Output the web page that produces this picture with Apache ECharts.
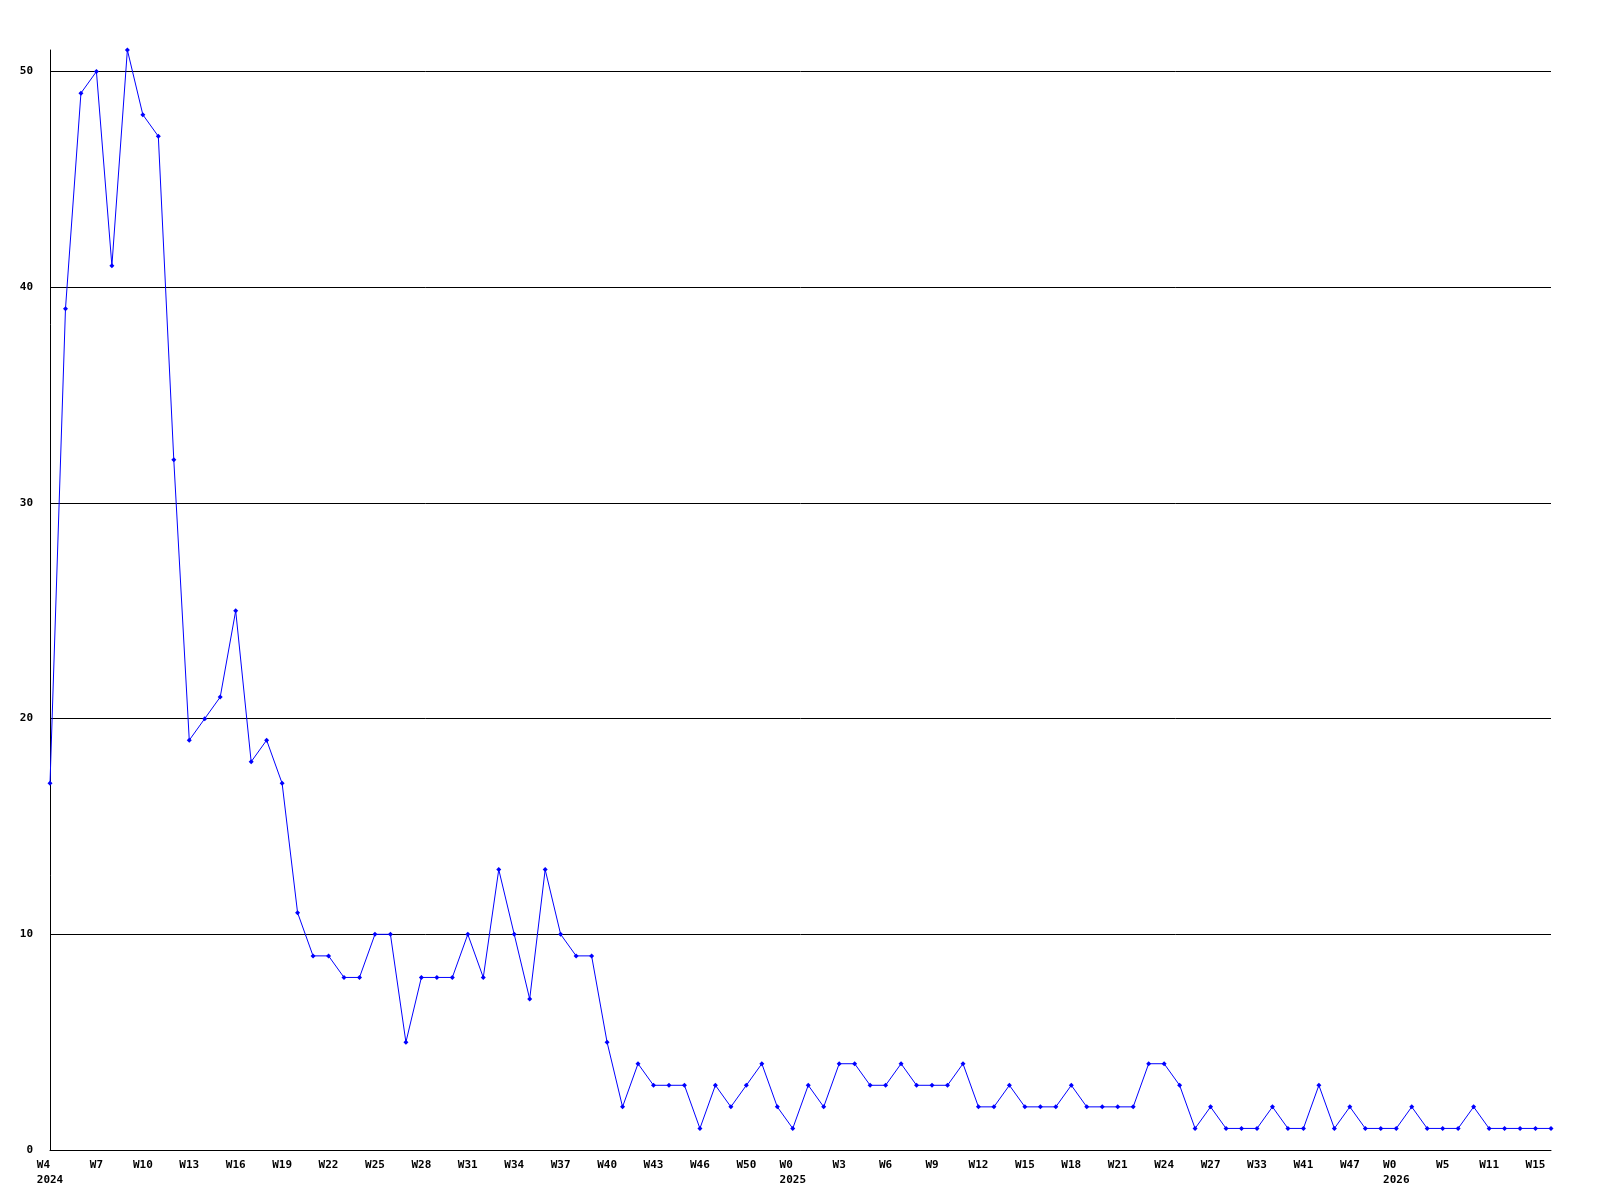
<!DOCTYPE html>
<html>
<head>
<meta charset="utf-8">
<script src="https://cdn.jsdelivr.net/npm/echarts@6/dist/echarts.min.js"></script>
<style>
  html, body { margin: 0; padding: 0; background: #fff; }
  #chart { width: 1600px; height: 1200px; }
</style>
</head>
<body>
<div id="chart"></div>
<script>
// weeks on the x axis (only every 3rd one is labelled)
var weeks = [
  'W4','W5','W6','W7','W8','W9','W10','W11','W12','W13','W14','W15','W16','W17','W18','W19',
  'W20','W21','W22','W23','W24','W25','W26','W27','W28','W29','W30','W31','W32','W33','W34','W35',
  'W36','W37','W38','W39','W40','W41','W42','W43','W44','W45','W46','W47','W49','W50','W51','W52',
  'W0','W1','W2','W3','W4','W5','W6','W7','W8','W9','W10','W11','W12','W13','W14','W15',
  'W16','W17','W18','W19','W20','W21','W22','W23','W24','W25','W26','W27','W29','W31','W33','W35',
  'W38','W41','W43','W45','W47','W49','W51','W0','W1','W3','W5','W7','W9','W11','W12','W13',
  'W15','W16'
];
// year shown under the first week of each year
var yearIdx = [0, 48, 87];
var yearLabels = ['2024', '2025', '2026'];

var counts = [
  17, 39, 49, 50, 41, 51, 48, 47, 32, 19, 20, 21, 25, 18, 19, 17,
  11, 9, 9, 8, 8, 10, 10, 5, 8, 8, 8, 10, 8, 13, 10, 7,
  13, 10, 9, 9, 5, 2, 4, 3, 3, 3, 1, 3, 2, 3, 4, 2,
  1, 3, 2, 4, 4, 3, 3, 4, 3, 3, 3, 4, 2, 2, 3, 2,
  2, 2, 3, 2, 2, 2, 2, 4, 4, 3, 1, 2, 1, 1, 1, 2,
  1, 1, 3, 1, 2, 1, 1, 1, 2, 1, 1, 1, 2, 1, 1, 1,
  1, 1
];

var yTicks = [0, 10, 20, 30, 40, 50];
var yMax = 51;

var chart = echarts.init(document.getElementById('chart'));
var font = 'DejaVu Sans Mono';

chart.setOption({
  animation: false,
  backgroundColor: '#fff',
  grid: { left: 50, right: 49, top: 50, bottom: 50, containLabel: false },
  xAxis: {
    type: 'category',
    data: weeks,
    boundaryGap: false,
    axisLine: { lineStyle: { color: '#000', width: 1 } },
    axisTick: { show: false },
    axisLabel: {
      interval: 2,
      margin: 8,
      color: '#000',
      fontFamily: font,
      fontWeight: 'bold',
      fontSize: 11,
      lineHeight: 15,
      formatter: function (v, i) {
        var k = yearIdx.indexOf(i);
        if (k < 0) return v;
        var y = yearLabels[k];
        // pad so both lines start at the same x (monospace font)
        while (v.length < y.length) v += ' ';
        return v + '\n' + y;
      }
    },
    splitLine: { show: false }
  },
  yAxis: {
    type: 'value',
    min: 0,
    max: yMax,
    interval: 10,
    axisLine: { show: true, lineStyle: { color: '#000', width: 1 } },
    axisTick: { show: false },
    axisLabel: {
      margin: 17,
      color: '#000',
      fontFamily: font,
      fontWeight: 'bold',
      fontSize: 11,
      formatter: function (v) {
        return yTicks.indexOf(v) >= 0 ? String(v) : '';
      }
    },
    splitLine: {
      show: true,
      lineStyle: {
        width: 1,
        color: ['#000', '#000', '#000', '#000', '#000', '#000', 'rgba(0,0,0,0)']
      }
    }
  },
  series: [{
    type: 'line',
    data: counts,
    symbol: 'diamond',
    symbolSize: 5,
    showAllSymbol: true,
    lineStyle: { color: '#0000ff', width: 1 },
    itemStyle: { color: '#0000ff' }
  }]
});
</script>
</body>
</html>
